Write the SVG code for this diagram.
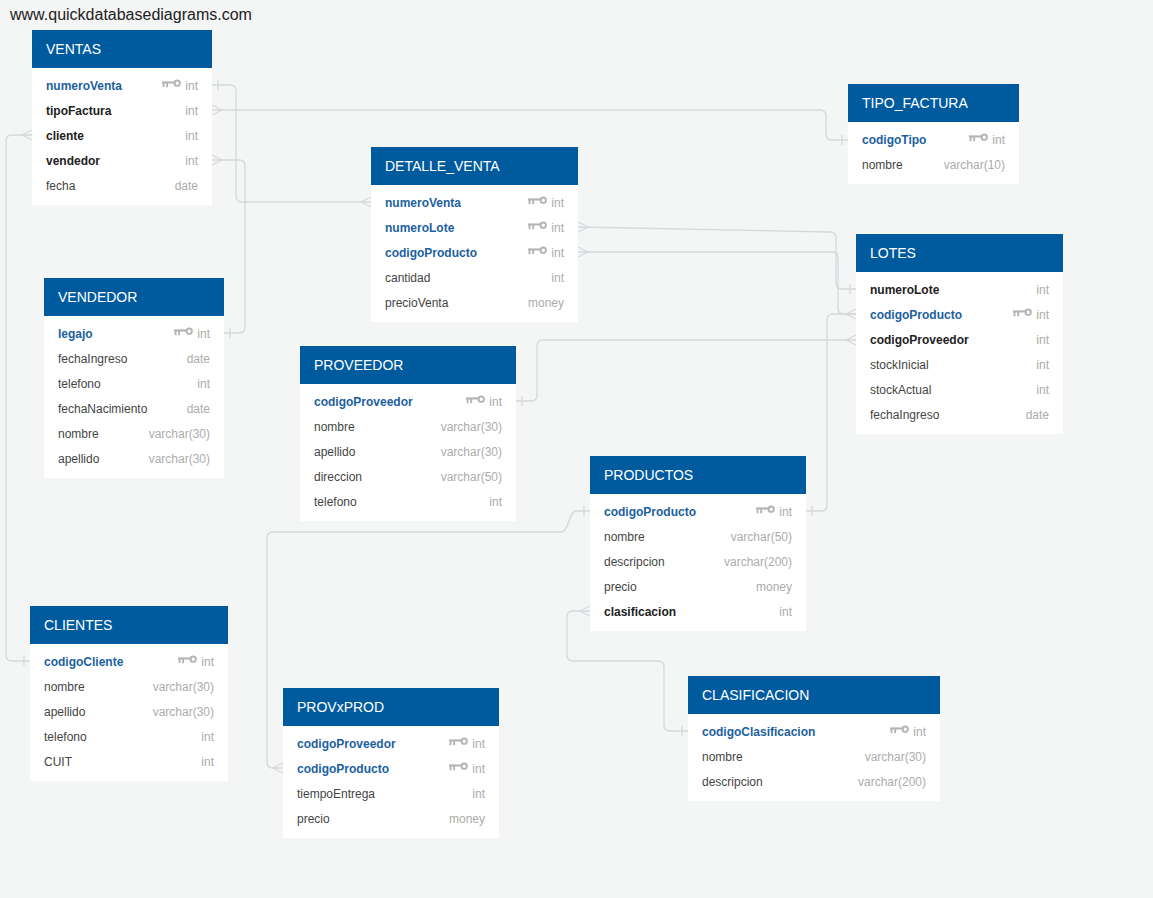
<svg xmlns="http://www.w3.org/2000/svg" width="1153" height="898" viewBox="0 0 1153 898">
<style>
.hd{fill:#005a9e}
.bd{fill:#ffffff}
.tt{font-family:"Liberation Sans",Arial,sans-serif;font-size:14px;fill:#ffffff}
.f{font-family:"Liberation Sans",Arial,sans-serif;font-size:12px;fill:#444444}
.pk{font-weight:bold;fill:#1c5f9f}
.fk{font-weight:bold;fill:#222222}
.ty{fill:#acacac;text-anchor:end}
.cn{fill:none;stroke:#d5d8dd;stroke-width:1.3}
.site{font-family:"Liberation Sans",Arial,sans-serif;font-size:16px;fill:#222222}
</style>
<defs>
<g id="key" fill="#b4b4b4">
<rect x="0" y="-3.6" width="13.5" height="2.1"/>
<rect x="0.6" y="-2" width="1.9" height="4.2"/>
<rect x="4.2" y="-2" width="1.9" height="4.2"/>
<circle cx="15.2" cy="-1.8" r="2.7" fill="none" stroke="#b4b4b4" stroke-width="1.9"/>
</g>
</defs>
<rect width="1153" height="898" fill="#f4f5f5"/>
<text class="site" x="10" y="20">www.quickdatabasediagrams.com</text>

<g id="connectors">
<path class="cn" d="M212,85 H230 Q236,85 236,91 V196 Q236,202 242,202 H371"/>
<path class="cn" d="M212,110 H820 Q826,110 826,116 V134 Q826,140 832,140 H848"/>
<path class="cn" d="M32,135 H12 Q6,135 6,141 V655 Q6,661 12,661 H30"/>
<path class="cn" d="M212,160 H239 Q245,160 245,166 V327 Q245,333 239,333 H224"/>
<path class="cn" d="M578,227 L830,232 Q836,232 836,238 V283 Q836,289 842,289 H856"/>
<path class="cn" d="M578,252 H832 Q838,252 838,258 V308 Q838,314 844,314 H856"/>
<path class="cn" d="M516,401 H531 Q537,401 537,395 V346 Q537,340 543,340 H856"/>
<path class="cn" d="M806,511 H821 Q827,511 827,505 V320 Q827,314 833,314 H856"/>
<path class="cn" d="M590,511 H576 C569,511 569,532 561,532 H273 Q267,532 267,538 V762 Q267,768 273,768 H283"/>
<path class="cn" d="M590,611 H573 Q567,611 567,617 V655 Q567,661 573,661 H658 Q664,661 664,667 V725 Q664,731 670,731 H688"/>
<path class="cn" d="M212,105 L222,110 L212,115"/>
<path class="cn" d="M212,155 L222,160 L212,165"/>
<path class="cn" d="M32,130 L22,135 L32,140"/>
<path class="cn" d="M371,197 L361,202 L371,207"/>
<path class="cn" d="M578,222 L588,227 L578,232"/>
<path class="cn" d="M578,247 L588,252 L578,257"/>
<path class="cn" d="M856,309 L846,314 L856,319"/>
<path class="cn" d="M856,335 L846,340 L856,345"/>
<path class="cn" d="M283,763 L273,768 L283,773"/>
<path class="cn" d="M590,606 L580,611 L590,616"/>
<path class="cn" d="M218,80 V90 M842,135 V145 M24,656 V666 M230,328 V338 M850,284 V294 M522,396 V406 M812,506 V516 M584,506 V516 M682,726 V736"/>
</g>

<g id="ventas" transform="translate(32,30)">
<rect class="hd" width="180" height="38"/>
<rect class="bd" y="38" width="180" height="137"/>
<text class="tt" x="14" y="24">VENTAS</text>
<text class="f pk" x="14" y="60">numeroVenta</text><use href="#key" x="130" y="55"/><text class="f ty" x="166" y="60">int</text>
<text class="f fk" x="14" y="85">tipoFactura</text><text class="f ty" x="166" y="85">int</text>
<text class="f fk" x="14" y="110">cliente</text><text class="f ty" x="166" y="110">int</text>
<text class="f fk" x="14" y="135">vendedor</text><text class="f ty" x="166" y="135">int</text>
<text class="f" x="14" y="160">fecha</text><text class="f ty" x="166" y="160">date</text>
</g>

<g id="tipo_factura" transform="translate(848,84)">
<rect class="hd" width="171" height="38"/>
<rect class="bd" y="38" width="171" height="62"/>
<text class="tt" x="14" y="24">TIPO_FACTURA</text>
<text class="f pk" x="14" y="60">codigoTipo</text><use href="#key" x="121" y="55"/><text class="f ty" x="157" y="60">int</text>
<text class="f" x="14" y="85">nombre</text><text class="f ty" x="157" y="85">varchar(10)</text>
</g>

<g id="detalle_venta" transform="translate(371,147)">
<rect class="hd" width="207" height="38"/>
<rect class="bd" y="38" width="207" height="137"/>
<text class="tt" x="14" y="24">DETALLE_VENTA</text>
<text class="f pk" x="14" y="60">numeroVenta</text><use href="#key" x="157" y="55"/><text class="f ty" x="193" y="60">int</text>
<text class="f pk" x="14" y="85">numeroLote</text><use href="#key" x="157" y="80"/><text class="f ty" x="193" y="85">int</text>
<text class="f pk" x="14" y="110">codigoProducto</text><use href="#key" x="157" y="105"/><text class="f ty" x="193" y="110">int</text>
<text class="f" x="14" y="135">cantidad</text><text class="f ty" x="193" y="135">int</text>
<text class="f" x="14" y="160">precioVenta</text><text class="f ty" x="193" y="160">money</text>
</g>

<g id="lotes" transform="translate(856,234)">
<rect class="hd" width="207" height="38"/>
<rect class="bd" y="38" width="207" height="162"/>
<text class="tt" x="14" y="24">LOTES</text>
<text class="f fk" x="14" y="60">numeroLote</text><text class="f ty" x="193" y="60">int</text>
<text class="f pk" x="14" y="85">codigoProducto</text><use href="#key" x="157" y="80"/><text class="f ty" x="193" y="85">int</text>
<text class="f fk" x="14" y="110">codigoProveedor</text><text class="f ty" x="193" y="110">int</text>
<text class="f" x="14" y="135">stockInicial</text><text class="f ty" x="193" y="135">int</text>
<text class="f" x="14" y="160">stockActual</text><text class="f ty" x="193" y="160">int</text>
<text class="f" x="14" y="185">fechaIngreso</text><text class="f ty" x="193" y="185">date</text>
</g>

<g id="vendedor" transform="translate(44,278)">
<rect class="hd" width="180" height="38"/>
<rect class="bd" y="38" width="180" height="162"/>
<text class="tt" x="14" y="24">VENDEDOR</text>
<text class="f pk" x="14" y="60">legajo</text><use href="#key" x="130" y="55"/><text class="f ty" x="166" y="60">int</text>
<text class="f" x="14" y="85">fechaIngreso</text><text class="f ty" x="166" y="85">date</text>
<text class="f" x="14" y="110">telefono</text><text class="f ty" x="166" y="110">int</text>
<text class="f" x="14" y="135">fechaNacimiento</text><text class="f ty" x="166" y="135">date</text>
<text class="f" x="14" y="160">nombre</text><text class="f ty" x="166" y="160">varchar(30)</text>
<text class="f" x="14" y="185">apellido</text><text class="f ty" x="166" y="185">varchar(30)</text>
</g>

<g id="proveedor" transform="translate(300,346)">
<rect class="hd" width="216" height="38"/>
<rect class="bd" y="38" width="216" height="137"/>
<text class="tt" x="14" y="24">PROVEEDOR</text>
<text class="f pk" x="14" y="60">codigoProveedor</text><use href="#key" x="166" y="55"/><text class="f ty" x="202" y="60">int</text>
<text class="f" x="14" y="85">nombre</text><text class="f ty" x="202" y="85">varchar(30)</text>
<text class="f" x="14" y="110">apellido</text><text class="f ty" x="202" y="110">varchar(30)</text>
<text class="f" x="14" y="135">direccion</text><text class="f ty" x="202" y="135">varchar(50)</text>
<text class="f" x="14" y="160">telefono</text><text class="f ty" x="202" y="160">int</text>
</g>

<g id="productos" transform="translate(590,456)">
<rect class="hd" width="216" height="38"/>
<rect class="bd" y="38" width="216" height="137"/>
<text class="tt" x="14" y="24">PRODUCTOS</text>
<text class="f pk" x="14" y="60">codigoProducto</text><use href="#key" x="166" y="55"/><text class="f ty" x="202" y="60">int</text>
<text class="f" x="14" y="85">nombre</text><text class="f ty" x="202" y="85">varchar(50)</text>
<text class="f" x="14" y="110">descripcion</text><text class="f ty" x="202" y="110">varchar(200)</text>
<text class="f" x="14" y="135">precio</text><text class="f ty" x="202" y="135">money</text>
<text class="f fk" x="14" y="160">clasificacion</text><text class="f ty" x="202" y="160">int</text>
</g>

<g id="clientes" transform="translate(30,606)">
<rect class="hd" width="198" height="38"/>
<rect class="bd" y="38" width="198" height="137"/>
<text class="tt" x="14" y="24">CLIENTES</text>
<text class="f pk" x="14" y="60">codigoCliente</text><use href="#key" x="148" y="55"/><text class="f ty" x="184" y="60">int</text>
<text class="f" x="14" y="85">nombre</text><text class="f ty" x="184" y="85">varchar(30)</text>
<text class="f" x="14" y="110">apellido</text><text class="f ty" x="184" y="110">varchar(30)</text>
<text class="f" x="14" y="135">telefono</text><text class="f ty" x="184" y="135">int</text>
<text class="f" x="14" y="160">CUIT</text><text class="f ty" x="184" y="160">int</text>
</g>

<g id="provxprod" transform="translate(283,688)">
<rect class="hd" width="216" height="38"/>
<rect class="bd" y="38" width="216" height="112"/>
<text class="tt" x="14" y="24">PROVxPROD</text>
<text class="f pk" x="14" y="60">codigoProveedor</text><use href="#key" x="166" y="55"/><text class="f ty" x="202" y="60">int</text>
<text class="f pk" x="14" y="85">codigoProducto</text><use href="#key" x="166" y="80"/><text class="f ty" x="202" y="85">int</text>
<text class="f" x="14" y="110">tiempoEntrega</text><text class="f ty" x="202" y="110">int</text>
<text class="f" x="14" y="135">precio</text><text class="f ty" x="202" y="135">money</text>
</g>

<g id="clasificacion" transform="translate(688,676)">
<rect class="hd" width="252" height="38"/>
<rect class="bd" y="38" width="252" height="87"/>
<text class="tt" x="14" y="24">CLASIFICACION</text>
<text class="f pk" x="14" y="60">codigoClasificacion</text><use href="#key" x="202" y="55"/><text class="f ty" x="238" y="60">int</text>
<text class="f" x="14" y="85">nombre</text><text class="f ty" x="238" y="85">varchar(30)</text>
<text class="f" x="14" y="110">descripcion</text><text class="f ty" x="238" y="110">varchar(200)</text>
</g>
</svg>
